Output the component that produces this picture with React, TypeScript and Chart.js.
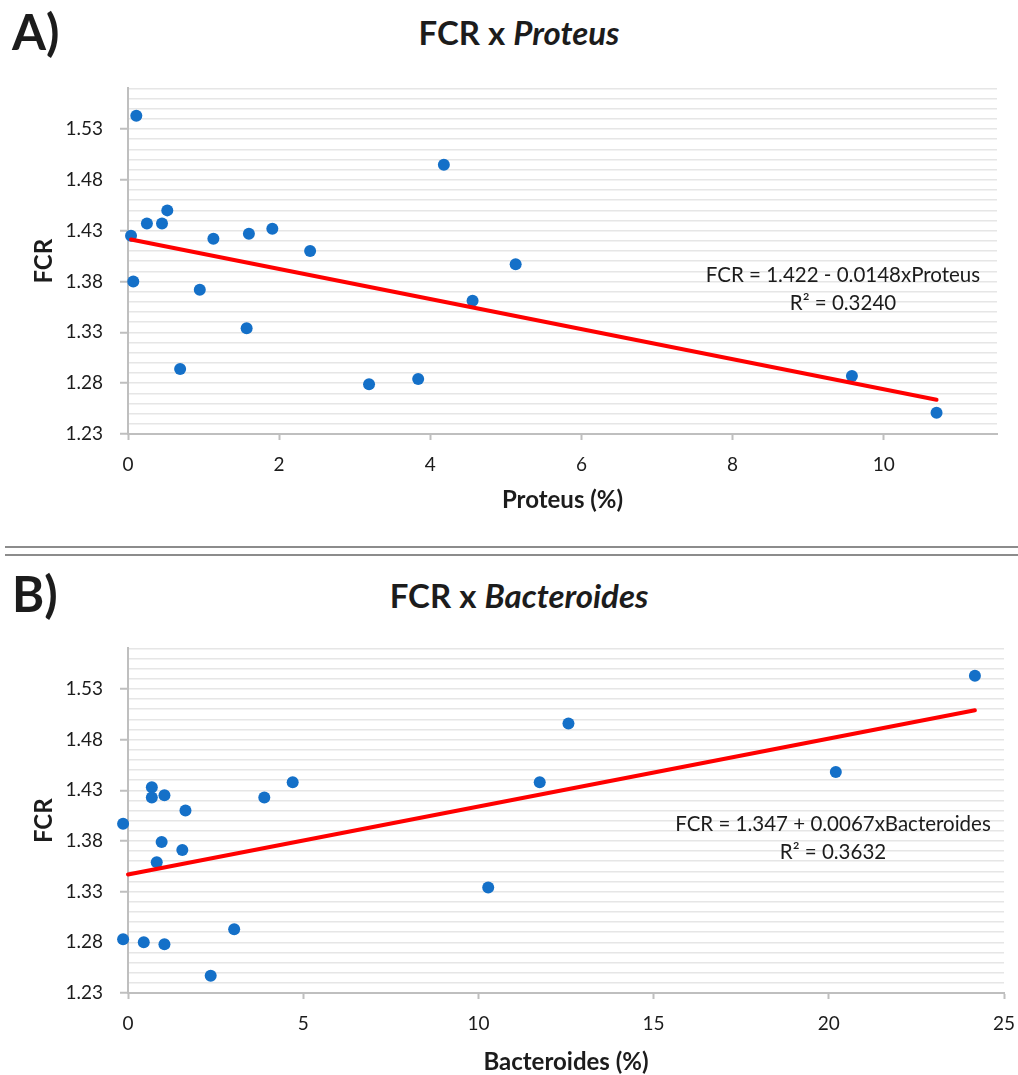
import React, { useEffect, useRef } from 'react';
import { Chart, registerables } from 'chart.js';

Chart.register(...registerables);

// ---- data ----
const PROTEUS_PCT = [0.11, 4.18, 0.52, 0.25, 0.45, 0.04, 1.13, 1.6, 1.91, 2.41, 0.07, 0.95, 5.13, 4.56, 0.69, 1.57, 3.19, 3.84, 9.58, 10.7];
const FCR_PROTEUS = [1.543, 1.495, 1.45, 1.437, 1.437, 1.425, 1.422, 1.427, 1.432, 1.41, 1.38, 1.372, 1.397, 1.361, 1.294, 1.334, 1.279, 1.284, 1.287, 1.251];

const BACTEROIDES_PCT = [0.68, 0.68, 1.04, 1.64, 3.89, 4.7, -0.14, 0.96, 1.55, 0.82, 10.28, 3.03, -0.14, 0.45, 1.04, 2.36, 12.57, 11.75, 20.2, 24.17];
const FCR_BACTEROIDES = [1.433, 1.423, 1.425, 1.41, 1.423, 1.438, 1.397, 1.379, 1.371, 1.359, 1.334, 1.293, 1.283, 1.28, 1.278, 1.247, 1.496, 1.438, 1.448, 1.543];

const PROTEUS_FIT = [1.422, -0.0148]; // intercept, slope
const BACTEROIDES_FIT = [1.347, 0.0067];

const FCR_TICK_LABELS = [1.23, 1.28, 1.33, 1.38, 1.43, 1.48, 1.53];
const PROTEUS_TICK_LABELS = [0, 2, 4, 6, 8, 10];
const BACTEROIDES_TICK_LABELS = [0, 5, 10, 15, 20, 25];

const PROTEUS_EQUATION = ['FCR = 1.422 - 0.0148xProteus', 'R\u00B2 = 0.3240'];
const BACTEROIDES_EQUATION = ['FCR = 1.347 + 0.0067xBacteroides', 'R\u00B2 = 0.3632'];

// ---- style ----
const FONT = 'Lato, "Open Sans", sans-serif';
const TEXT = '#1c1c1c';
const AXIS = '#bfbfbf';
const GRID = '#e6e6e6';
const DOT = '#1470c8';
const FIT = '#ff0000';
const Y_MIN = 1.23;
const Y_MAX = 1.57;
const Y_MINOR = 0.01;
const PAGE_W = 1018;
const CANVAS_W = 1060;

type PanelProps = {
  xs: number[];
  ys: number[];
  fit: number[];
  xTicks: number[];
  xMax: number;
  xTitle: string;
  top: number;
  height: number;
  plotTop: number;
  plotBottom: number;
  plotRight: number;
  xTitleY: number;
};

function Panel(p: PanelProps) {
  const ref = useRef<HTMLCanvasElement>(null);
  useEffect(() => {
    const canvas = ref.current as HTMLCanvasElement;
    const minorTicks: number[] = [];
    const n = Math.round((Y_MAX - Y_MIN) / Y_MINOR);
    for (let i = 0; i <= n; i++) minorTicks.push(+(Y_MIN + i * Y_MINOR).toFixed(2));
    const isMajor = (v: any) => typeof v === 'number' && FCR_TICK_LABELS.some((t) => Math.abs(t - v) < 1e-6);
    const x0 = Math.max(0, Math.min(...p.xs));
    const x1 = Math.max(...p.xs);
    const fitLine = [x0, x1].map((x) => ({ x, y: p.fit[0] + p.fit[1] * x }));
    const points = p.xs.map((x, i) => ({ x, y: p.ys[i] }));
    const xAxisH = p.top + p.height - p.plotBottom;
    const titleSize = 24;
    const lh = titleSize * 1.2;
    const titleFont = { family: FONT, size: titleSize, weight: 'bold' as const };
    const tickFont = { family: FONT, size: 19 };

    const chart = new Chart(canvas, {
      type: 'scatter',
      data: {
        datasets: [
          {
            data: fitLine,
            showLine: true,
            borderColor: FIT,
            borderWidth: 4,
            borderCapStyle: 'round',
            pointRadius: 0,
            pointHoverRadius: 0,
            clip: false,
          } as any,
          {
            data: points,
            pointRadius: 6,
            pointHoverRadius: 6,
            pointBackgroundColor: DOT,
            pointBorderWidth: 0,
            backgroundColor: DOT,
            borderColor: DOT,
            clip: false,
          } as any,
        ],
      },
      options: {
        animation: false,
        responsive: false,
        maintainAspectRatio: false,
        devicePixelRatio: 1,
        events: [],
        layout: { padding: { top: p.plotTop - p.top, right: CANVAS_W - p.plotRight, bottom: 0, left: 0 } },
        plugins: { legend: { display: false }, tooltip: { enabled: false }, title: { display: false } },
        scales: {
          x: {
            type: 'linear',
            min: 0,
            max: p.xMax,
            afterBuildTicks: (a: any) => {
              a.ticks = p.xTicks.map((v) => ({ value: v }));
            },
            afterFit: (a: any) => {
              a.height = xAxisH;
            },
            grid: { drawOnChartArea: false, drawTicks: true, tickLength: 6, tickColor: AXIS, tickWidth: 2 },
            border: { color: AXIS, width: 2 },
            ticks: { color: TEXT, font: tickFont, padding: 13, maxRotation: 0, autoSkip: false },
            title: {
              display: true,
              text: p.xTitle,
              color: TEXT,
              font: titleFont,
              padding: { top: 0, bottom: p.top + p.height - p.xTitleY - lh / 2 },
            },
          },
          y: {
            type: 'linear',
            min: Y_MIN,
            max: Y_MAX,
            afterBuildTicks: (a: any) => {
              a.ticks = minorTicks.map((v) => ({ value: v }));
            },
            afterFit: (a: any) => {
              a.width = 128;
            },
            grid: {
              color: GRID,
              lineWidth: 1.5,
              tickLength: 8,
              tickWidth: 2,
              tickColor: (c: any) => (isMajor(c.tick && c.tick.value) ? AXIS : 'rgba(0,0,0,0)'),
            },
            border: { color: AXIS, width: 2 },
            ticks: {
              color: TEXT,
              font: tickFont,
              padding: 17,
              autoSkip: false,
              callback: (v: any) => (isMajor(Number(v)) ? Number(v).toFixed(2) : ''),
            },
            title: {
              display: true,
              text: 'FCR',
              color: TEXT,
              font: titleFont,
              padding: { top: 44 - lh / 2, bottom: 0 },
            },
          },
        },
      } as any,
    });
    return () => chart.destroy();
  }, []);
  return (
    <canvas
      ref={ref}
      width={CANVAS_W}
      height={p.height}
      style={{ position: 'absolute', left: 0, top: p.top, width: CANVAS_W, height: p.height }}
    />
  );
}

function Equation({ lines, cx, top }: { lines: string[]; cx: number; top: number }) {
  return (
    <div
      style={{
        position: 'absolute',
        left: cx - 250,
        width: 500,
        top,
        textAlign: 'center',
        fontSize: 20.5,
        lineHeight: '28px',
        whiteSpace: 'nowrap',
      }}
    >
      {lines.map((l, i) => (
        <div key={i}>{l}</div>
      ))}
    </div>
  );
}

export default function App() {
  const panelLabel: React.CSSProperties = { position: 'absolute', left: 12, fontSize: 49, fontWeight: 700, lineHeight: 1 };
  const title: React.CSSProperties = {
    position: 'absolute',
    left: 0,
    width: 1038,
    textAlign: 'center',
    fontSize: 33,
    fontWeight: 700,
    lineHeight: 1,
    whiteSpace: 'nowrap',
  };
  const rule: React.CSSProperties = { position: 'absolute', left: 5, width: 1013, height: 2, background: '#8c8c8c' };
  return (
    <div
      style={{
        position: 'absolute',
        left: 0,
        top: 0,
        width: PAGE_W,
        height: 1075,
        overflow: 'hidden',
        background: '#ffffff',
        fontFamily: FONT,
        color: TEXT,
      }}
    >
      <div style={{ ...panelLabel, top: 7 }}>A)</div>
      <div style={{ ...title, top: 16 }}>
        FCR x <i>Proteus</i>
      </div>
      <Panel
        xs={PROTEUS_PCT}
        ys={FCR_PROTEUS}
        fit={PROTEUS_FIT}
        xTicks={PROTEUS_TICK_LABELS}
        xMax={11.5}
        xTitle="Proteus (%)"
        top={60}
        height={470}
        plotTop={87}
        plotBottom={434}
        plotRight={997}
        xTitleY={500}
      />
      <Equation lines={PROTEUS_EQUATION} cx={843} top={259.5} />

      <div style={{ ...rule, top: 545.5 }} />
      <div style={{ ...rule, top: 553.5 }} />

      <div style={{ ...panelLabel, top: 569 }}>B)</div>
      <div style={{ ...title, top: 579 }}>
        FCR x <i>Bacteroides</i>
      </div>
      <Panel
        xs={BACTEROIDES_PCT}
        ys={FCR_BACTEROIDES}
        fit={BACTEROIDES_FIT}
        xTicks={BACTEROIDES_TICK_LABELS}
        xMax={25}
        xTitle="Bacteroides (%)"
        top={620}
        height={455}
        plotTop={647}
        plotBottom={993}
        plotRight={1004}
        xTitleY={1062}
      />
      <Equation lines={BACTEROIDES_EQUATION} cx={833} top={808.5} />
    </div>
  );
}
